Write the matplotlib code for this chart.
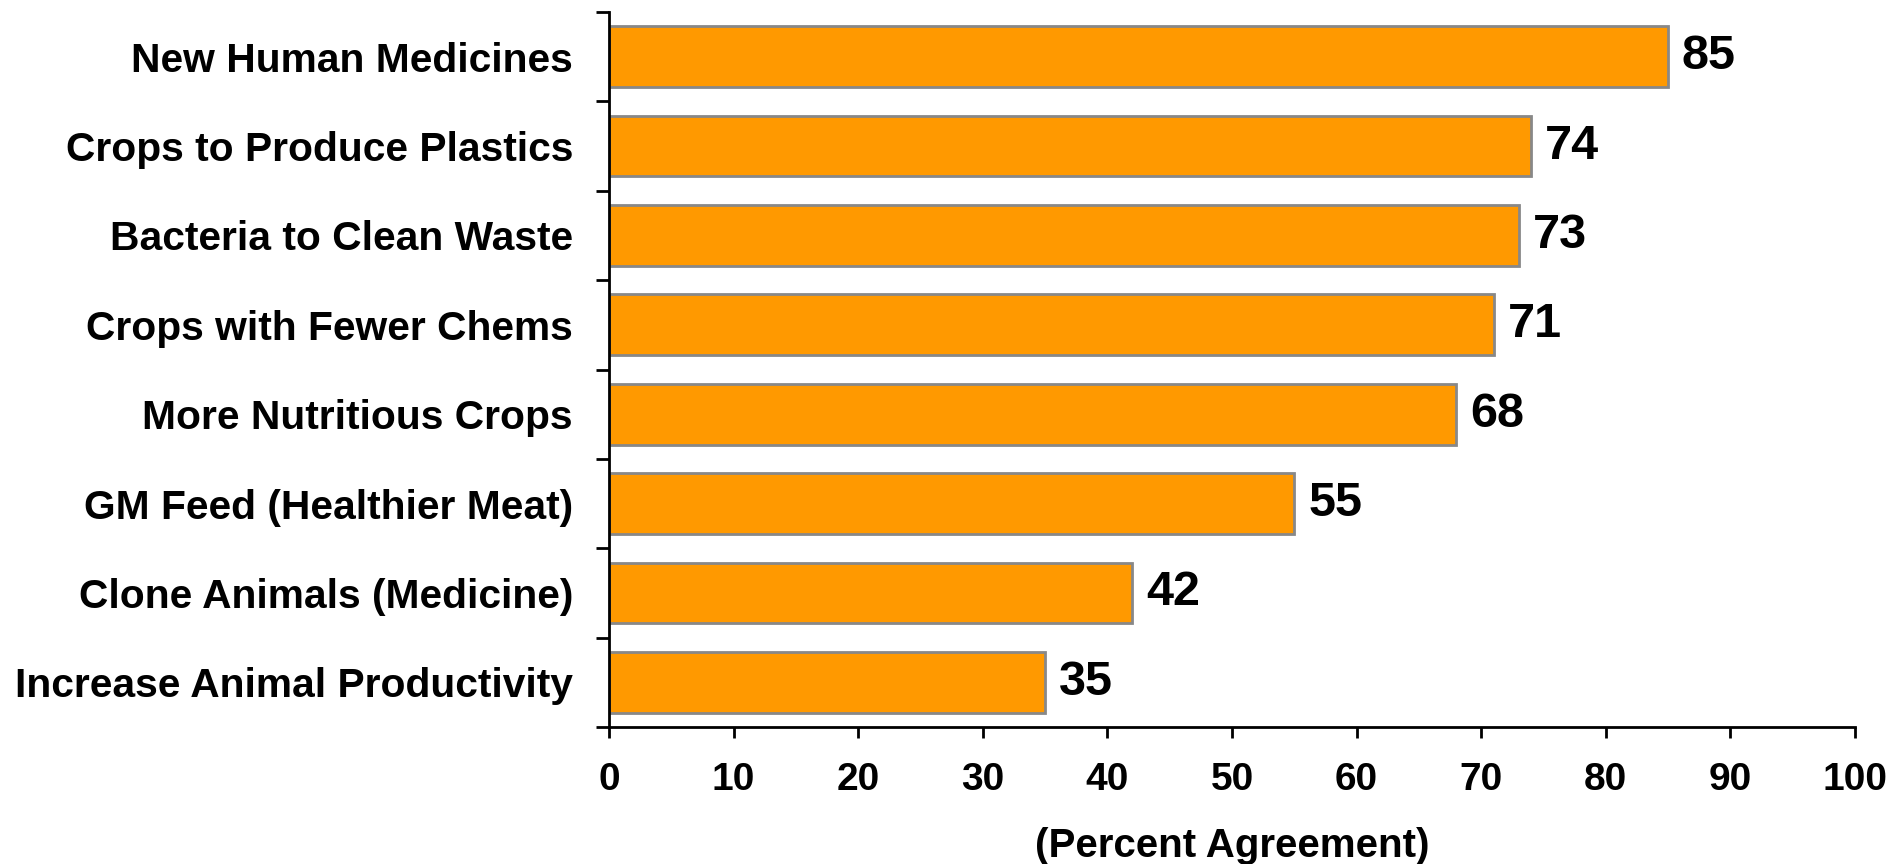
import numpy as np
import matplotlib.pyplot as plt

# Agreement with biotechnology applications (percent)
categories = [
    "New Human Medicines",
    "Crops to Produce Plastics",
    "Bacteria to Clean Waste",
    "Crops with Fewer Chems",
    "More Nutritious Crops",
    "GM Feed (Healthier Meat)",
    "Clone Animals (Medicine)",
    "Increase Animal Productivity",
]
agreement = [85, 74, 73, 71, 68, 55, 42, 35]
x_ticks = list(range(0, 101, 10))

BAR_COLOR = "#FF9900"
EDGE_COLOR = "#888888"

plt.rcParams["font.family"] = ["Liberation Sans", "DejaVu Sans"]
plt.rcParams["font.weight"] = "bold"

fig = plt.figure(figsize=(19.01, 8.64), dpi=100)
ax = fig.add_axes([609 / 1901, 1 - 727 / 864, (1855 - 609) / 1901, (727 - 12) / 864])

n = len(categories)
y = np.arange(n)[::-1]
bars = ax.barh(y, agreement, height=0.68, color=BAR_COLOR,
               edgecolor=EDGE_COLOR, linewidth=2)

for yi, v in zip(y, agreement):
    ax.annotate(f"{v}", xy=(v, yi), xytext=(10, 0), textcoords="offset points",
                ha="left", va="center", fontsize=35, fontweight="bold")

ax.set_xlim(0, 100)
ax.set_ylim(-0.5, n - 0.5)
ax.set_xticks(x_ticks)
ax.set_xticklabels([str(t) for t in x_ticks], fontsize=28, fontweight="bold")

# category labels centred on bars, ticks on the boundaries between them
ax.set_yticks(y)
ax.set_yticklabels(categories, fontsize=29.3, fontweight="bold")
ax.tick_params(axis="y", which="major", length=0, pad=26)
ax.set_yticks(np.arange(-0.5, n, 1.0), minor=True)
ax.tick_params(axis="y", which="minor", length=9.5, width=2, direction="out")
ax.tick_params(axis="x", length=8, width=2, direction="out", pad=17)

for side in ("top", "right"):
    ax.spines[side].set_visible(False)
for side in ("left", "bottom"):
    ax.spines[side].set_linewidth(2)

ax.set_xlabel("(Percent Agreement)", fontsize=29, fontweight="bold", labelpad=21)

fig.savefig("out.png", dpi=100)
